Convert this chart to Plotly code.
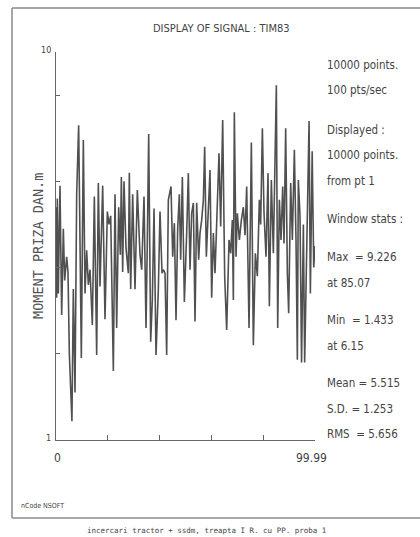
import plotly.graph_objects as go

# --- data (time in s, moment in daN.m) ---
time_s = [0, 0.26, 0.51, 0.90, 1.54, 2.19, 2.83, 3.35, 4.12, 4.63, 5.15, 6.15, 6.69, 7.34, 7.98,
          8.75, 9.27, 9.78, 10.55, 11.20, 11.84, 12.48, 13.13, 14.03, 14.80, 15.70, 16.34, 16.99,
          18.02, 18.92, 19.82, 20.46, 21.11, 22.14, 22.78, 23.42, 24.20, 24.84, 25.23, 25.74,
          26.25, 27.03, 27.93, 28.31, 28.83, 29.60, 30.50, 31.40, 32.43, 33.08, 33.98, 34.75,
          35.26, 35.78, 36.55, 37.19, 37.84, 38.61, 39.51, 40.15, 40.93, 41.44, 42.08, 42.73,
          43.37, 44.40, 45.05, 45.69, 46.33, 46.98, 47.62, 48.13, 48.78, 49.55, 50.45, 51.09,
          51.74, 52.38, 53.03, 53.67, 54.31, 55.08, 55.60, 56.24, 56.89, 57.40, 58.04, 58.69,
          59.46, 60.10, 60.75, 61.39, 62.03, 62.93, 63.58, 64.35, 65.12, 65.89, 66.80, 67.44,
          68.08, 68.47, 68.85, 69.50, 70.01, 70.79, 71.56, 72.33, 72.97, 73.62, 74.52, 75.42,
          76.19, 76.96, 77.73, 78.51, 79.02, 79.67, 80.31, 81.08, 81.85, 82.37, 83.14, 83.91,
          85.07, 85.59, 86.23, 86.87, 87.52, 88.03, 88.67, 89.32, 89.83, 90.60, 91.25, 92.02,
          92.66, 93.18, 93.56, 94.2, 94.8, 95.5, 96.0, 97.0, 97.7, 98.2, 98.9, 99.5, 99.99]
moment = [6.4, 4.3, 6.6, 4.4, 6.9, 3.9, 5.9, 4.7, 5.25, 4.9, 3.0, 1.433, 4.5, 2.1, 6.7,
          8.3, 5.6, 2.9, 7.96, 4.4, 5.4, 4.6, 4.95, 3.67, 6.65, 2.97, 6.96, 4.56,
          6.9, 3.8, 6.3, 6.0, 6.2, 2.6, 6.7, 3.6, 6.4, 5.3, 7.1, 4.9,
          7.0, 5.45, 4.87, 7.2, 4.5, 6.7, 4.5, 6.8, 5.3, 4.95, 6.65, 3.6,
          5.6, 8.1, 3.28, 4.25, 6.37, 2.97, 4.5, 6.3, 4.87, 4.95, 4.87, 2.97,
          6.57, 6.88, 5.25, 6.03, 3.78, 5.9, 6.7, 5.18, 7.1, 4.2, 5.8, 7.19,
          4.95, 6.26, 6.5, 3.75, 6.5, 5.18, 5.8, 6.1, 6.57, 7.8, 5.25, 6.2,
          7.26, 4.3, 5.8, 4.87, 6.26, 7.65, 5.95, 8.42, 4.8, 3.55, 5.64, 5.33,
          6.1, 4.25, 8.6, 5.25, 6.26, 5.64, 6.1, 6.4, 5.75, 6.88, 3.6, 7.9,
          3.2, 5.33, 4.8, 6.57, 6.0, 8.23, 6.26, 5.25, 7.19, 4.1, 7.03, 5.33,
          9.226, 3.6, 6.57, 5.64, 6.88, 5.56, 8.23, 4.87, 3.94, 6.96, 5.64, 7.73,
          5.64, 2.86, 7.03, 6.2, 2.8, 6.0, 2.8, 6.0, 8.4, 4.4, 7.7, 5.0, 5.5]

x_tick_vals = [20, 40, 60, 80]
y_tick_vals = [3, 5, 7, 9]
x_end_labels = ["0", "99.99"]
y_end_labels = ["1", "10"]
title_text = "DISPLAY OF SIGNAL : TIM83"
y_title = "MOMENT PRIZA DAN.m"
info_lines = [
    ("10000 points.", 65), ("100 pts/sec", 90),
    ("Displayed :", 130), ("10000 points.", 155), ("from pt 1", 181),
    ("Window stats :", 219),
    ("Max  = 9.226", 257), ("at 85.07", 283),
    ("Min  = 1.433", 320), ("at 6.15", 346),
    ("Mean = 5.515", 383), ("S.D. = 1.253", 409), ("RMS  = 5.656", 434),
]
footer_left = "nCode NSOFT"
caption = "incercari tractor + ssdm, treapta I R. cu PP. proba 1"

W, H = 420, 537
L, R, T, B = 56, 315, 52, 440


def px(x):
    return (x - L) / (R - L)


def py(y):
    return (B - y) / (B - T)


FONT = "DejaVu Sans Condensed, Liberation Sans Narrow, sans-serif"
MONO = "DejaVu Sans Mono, Liberation Mono, monospace"
TXT = "#444444"

fig = go.Figure()
fig.add_trace(go.Scatter(x=time_s, y=moment, mode="lines",
                         line=dict(color="#505050", width=1.6),
                         hoverinfo="skip", showlegend=False))

fig.update_layout(
    width=W, height=H,
    margin=dict(l=L, r=W - R, t=T, b=H - B),
    paper_bgcolor="white", plot_bgcolor="white",
    showlegend=False,
    xaxis=dict(range=[0, 99.99], tickvals=x_tick_vals, ticktext=["" for _ in x_tick_vals],
               ticks="inside", ticklen=5, tickcolor="#666", showgrid=False, zeroline=False,
               showline=True, linecolor="#666", linewidth=1, fixedrange=True),
    yaxis=dict(range=[1, 10], tickvals=y_tick_vals, ticktext=["" for _ in y_tick_vals],
               ticks="inside", ticklen=4, tickcolor="#666", showgrid=False, zeroline=False,
               showline=True, linecolor="#666", linewidth=1, fixedrange=True),
)

# outer frame (left, top, bottom)
frame = dict(type="line", xref="paper", yref="paper", line=dict(color="#8a8a8a", width=1.5))
fig.add_shape(x0=px(12), x1=px(12), y0=py(8), y1=py(518), **frame)
fig.add_shape(x0=px(12), x1=px(420), y0=py(8), y1=py(8), **frame)
fig.add_shape(x0=px(12), x1=px(420), y0=py(518), y1=py(518), **frame)

ann = []
ann.append(dict(text=title_text, x=px(221), y=py(29), xanchor="center", yanchor="middle",
                font=dict(family=FONT, size=11, color=TXT)))
ann.append(dict(text=y_title, x=px(38), y=py(246), xanchor="center", yanchor="middle",
                textangle=-90, font=dict(family=MONO, size=13.5, color="#555")))
ann.append(dict(text=y_end_labels[1], x=px(53), y=py(50), xanchor="right", yanchor="middle",
                font=dict(family=FONT, size=9, color=TXT)))
ann.append(dict(text=y_end_labels[0], x=px(53), y=py(438), xanchor="right", yanchor="middle",
                font=dict(family=FONT, size=9, color=TXT)))
ann.append(dict(text=x_end_labels[0], x=px(57), y=py(458), xanchor="center", yanchor="middle",
                font=dict(family=FONT, size=12, color=TXT)))
ann.append(dict(text=x_end_labels[1], x=px(311), y=py(458), xanchor="center", yanchor="middle",
                font=dict(family=FONT, size=12, color=TXT)))
for text, yy in info_lines:
    ann.append(dict(text=text, x=px(325), y=py(yy), xanchor="left", yanchor="middle",
                    font=dict(family=FONT, size=11.5, color=TXT)))
ann.append(dict(text=footer_left, x=px(19), y=py(506), xanchor="left", yanchor="middle",
                font=dict(family=FONT, size=7, color=TXT)))
ann.append(dict(text=caption, x=px(206), y=py(530), xanchor="center", yanchor="middle",
                font=dict(family=MONO, size=7.5, color=TXT)))
for a in ann:
    a.update(xref="paper", yref="paper", showarrow=False)
fig.update_layout(annotations=ann)

fig.write_html("out.html")
